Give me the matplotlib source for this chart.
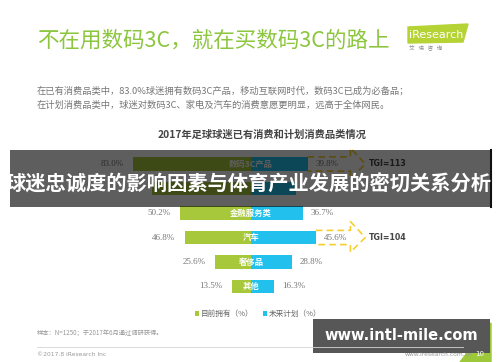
import numpy as np
import matplotlib
matplotlib.use("Agg")
import matplotlib.pyplot as plt
from matplotlib.patches import Rectangle, Polygon

plt.rcParams['font.family'] = ['Noto Sans CJK SC', 'DejaVu Sans']

# data
categories = ['数码3C产品', '家电', '金融服务类', '汽车', '奢侈品', '其他']
own = [83.0, 69.8, 50.2, 46.8, 25.6, 13.5]      # 目前拥有（%）
plan = [39.8, 31.9, 36.7, 45.6, 28.8, 16.3]     # 未来计划（%）
hidden_rows = [1]   # row covered by the banner, its labels can't be seen
tgi_rows = [0, 3]
tgi_vals = [113, 104]

green = '#a6c83a'
blue = '#22c0ec'
yellow = '#f6cf2e'

fig = plt.figure(figsize=(5, 3.62), dpi=100)
fig.patch.set_facecolor('white')

# bar chart axes (1.42 px per %, centre at x=251px, rows 24.5px apart)
ax = fig.add_axes([109 / 500, (362 - 298.75) / 362, 284 / 500, 147 / 362])
rows = np.arange(len(categories))
b1 = ax.barh(rows, [-v for v in own], height=0.57, color=green, label='目前拥有（%）')
b2 = ax.barh(rows, plan, height=0.57, color=blue, label='未来计划（%）')
ax.set_xlim(-100, 100)
ax.set_ylim(len(categories) - 0.5, -0.5)
ax.axis('off')

for i, c in enumerate(categories):
    if i in hidden_rows:
        continue
    ax.text(0, i, c, ha='center', va='center', color='white', fontsize=6, fontweight='bold')
    ax.text(-own[i] - 6.5, i, f'{own[i]:.1f}%', ha='right', va='center', color='#777777',
            fontsize=6.5, family='Liberation Serif')
    ax.text(plan[i] + 5.5, i, f'{plan[i]:.1f}%', ha='left', va='center', color='#777777',
            fontsize=6.5, family='Liberation Serif')

# TGI dashed arrows
for r, t in zip(tgi_rows, tgi_vals):
    x0 = plan[r]
    xs = [x0, 70, 70, 80.5, 70, 70, x0]
    ys = [r - 0.29, r - 0.29, r - 0.65, r, r + 0.6, r + 0.29, r + 0.29]
    ax.plot(xs, ys, color=yellow, lw=1.2, ls=(0, (4, 2.5)), clip_on=False)
    ax.text(83, r, f'TGI={t}', ha='left', va='center', color='#444444', fontsize=5.7,
            fontweight='bold', family='DejaVu Sans')

fig.legend(handles=[b1, b2], loc='center', bbox_to_anchor=(258 / 500, 1 - 314 / 362), ncol=2,
           frameon=False, fontsize=5.5, handlelength=0.55, handleheight=0.55,
           handletextpad=0.2, columnspacing=1.2, labelcolor='#666666')

# page decorations in pixel coordinates
ov = fig.add_axes([0, 0, 1, 1], zorder=5)
ov.set_xlim(0, 500)
ov.set_ylim(362, 0)
ov.axis('off')
ov.patch.set_alpha(0)

ov.text(37, 41, '不在用数码3C，就在买数码3C的路上', fontsize=15.5, color='#8cc63e', va='center')
ov.text(37, 90.5, '在已有消费品类中，83.0%球迷拥有数码3C产品，移动互联网时代，数码3C已成为必备品；',
        fontsize=6.7, color='#777777', va='center')
ov.text(37, 105, '在计划消费品类中，球迷对数码3C、家电及汽车的消费意愿更明显，远高于全体网民。',
        fontsize=6.7, color='#777777', va='center')
ov.text(262, 135, '2017年足球球迷已有消费和计划消费品类情况', fontsize=7.4, fontweight='bold',
        color='#444444', ha='center', va='center')

# logo
ov.add_patch(Polygon([(408, 27), (468, 24), (463, 42), (408, 43)], closed=True, color='#b5d334'))
ov.text(409, 34.5, 'iResearch', fontsize=8, color='white', va='center', family='DejaVu Sans')
ov.text(409, 47.5, '艾   瑞   咨   询', fontsize=4, color='#888888', va='center')

# footer
ov.text(37, 333, '样本：N=1250；于2017年6月通过调研获得。', fontsize=4.5, color='#999999', va='center')
ov.plot([37, 463], [347, 347], color='#d5d5d5', lw=0.6)
ov.text(37, 354, '©2017.8 iResearch Inc', fontsize=4.3, color='#999999', va='center', family='DejaVu Sans')
ov.text(405, 354, 'www.iresearch.com.cn', fontsize=4.3, color='#999999', va='center', family='DejaVu Sans')
ov.add_patch(Polygon([(460, 362), (491, 323), (491, 362)], closed=True, color='#9cc83a'))
ov.text(480, 354, '10', fontsize=5, color='white', ha='center', va='center', family='DejaVu Sans')

# overlay banner
ov.add_patch(Rectangle((10, 150), 481, 57, color='black', alpha=0.63, lw=0))
ov.plot([491, 491], [150, 207], color='#111111', lw=1.5)
ov.text(249, 184, '球迷忠诚度的影响因素与体育产业发展的密切关系分析', fontsize=14.6,
        fontweight='bold', color='white', ha='center', va='center')

# watermark
ov.add_patch(Rectangle((313, 319), 177, 34, color='#575757', lw=0))
ov.text(401, 336, 'www.intl-mile.com', fontsize=10.5, fontweight='bold', color='white',
        ha='center', va='center', family='DejaVu Sans')

fig.savefig('out.png', dpi=100)
